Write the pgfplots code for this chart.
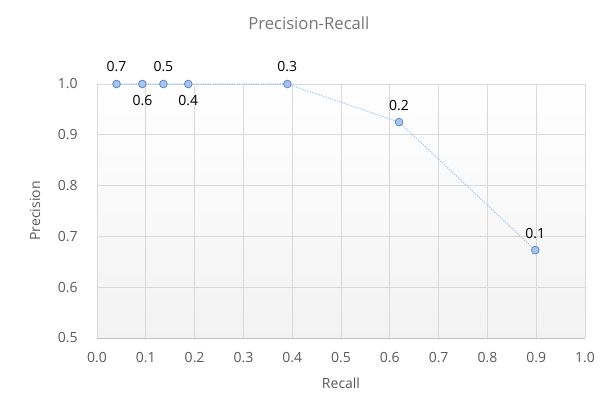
\documentclass[border=0pt]{standalone}
\usepackage{pgfplots}
\pgfplotsset{compat=1.18}
\usepackage{fontspec}
\setmainfont{Open Sans}
\definecolor{txtgray}{HTML}{595959}
\definecolor{titlegray}{HTML}{757575}
\definecolor{gridgray}{HTML}{D9D9D9}
\definecolor{axisgray}{HTML}{BFBFBF}
\definecolor{linblue}{HTML}{9DC3E6}
\definecolor{mkfill}{HTML}{A9C4EB}
\definecolor{mkdraw}{HTML}{5B87C9}

\pgfplotstableread{
x     y      lab  off
0.040 1.000  0.7  12.75
0.093 1.000  0.6  -12.75
0.136 1.000  0.5  12.75
0.187 1.000  0.4  -12.75
0.390 1.000  0.3  12.75
0.619 0.925  0.2  12.75
0.898 0.673  0.1  12.75
}\prdata

\begin{document}
\begin{tikzpicture}
\begin{axis}[
    width=366pt, height=190.5pt,
    scale only axis,
    clip=false,
    xmin=0, xmax=1, ymin=0.5, ymax=1,
    xtick={0,0.1,...,1.0},
    ytick={0.5,0.6,...,1.0},
    /pgf/number format/fixed,
    /pgf/number format/fixed zerofill,
    /pgf/number format/precision=1,
    /pgf/number format/assume math mode=true,
    tick label style={font=\fontsize{10.5}{12}\selectfont, text=txtgray},
    xticklabel style={yshift=-7.5pt},
    yticklabel style={xshift=-11pt},
    major tick length=0pt,
    grid=major,
    grid style={gridgray, line width=0.6pt},
    axis line style={gridgray},
    axis x line*=bottom,
    axis y line*=left,
    x axis line style={axisgray, line width=0.7pt},
    axis background/.style={shade, top color=white, middle color=white, bottom color=black!5},
    title={Precision-Recall},
    title style={at={(rel axis cs:0.434,1.209)}, anchor=center, font=\fontsize{12.5}{15}\selectfont, text=titlegray},
    xlabel={Recall},
    ylabel={Precision},
    xlabel style={at={(rel axis cs:0.5,-0.177)}, anchor=center, font=\fontsize{10.5}{12}\selectfont, text=txtgray},
    ylabel style={at={(rel axis cs:-0.127,0.5)}, anchor=center, font=\fontsize{10.5}{12}\selectfont, text=txtgray},
]
\addplot[
    linblue, densely dotted, line width=0.8pt,
    mark=*, mark size=2.9pt,
    mark options={solid, fill=mkfill, draw=mkdraw, line width=0.6pt},
    point meta=explicit symbolic,
    visualization depends on={\thisrow{off} \as \off},
    nodes near coords,
    nodes near coords style={anchor=center, yshift=\off pt, font=\fontsize{10.5}{12}\selectfont, text=black},
] table[x=x, y=y, meta=lab] {\prdata};
\path (rel axis cs:-0.1988,-0.2835) rectangle (rel axis cs:1.043,1.3307);
\end{axis}
\end{tikzpicture}
\end{document}
